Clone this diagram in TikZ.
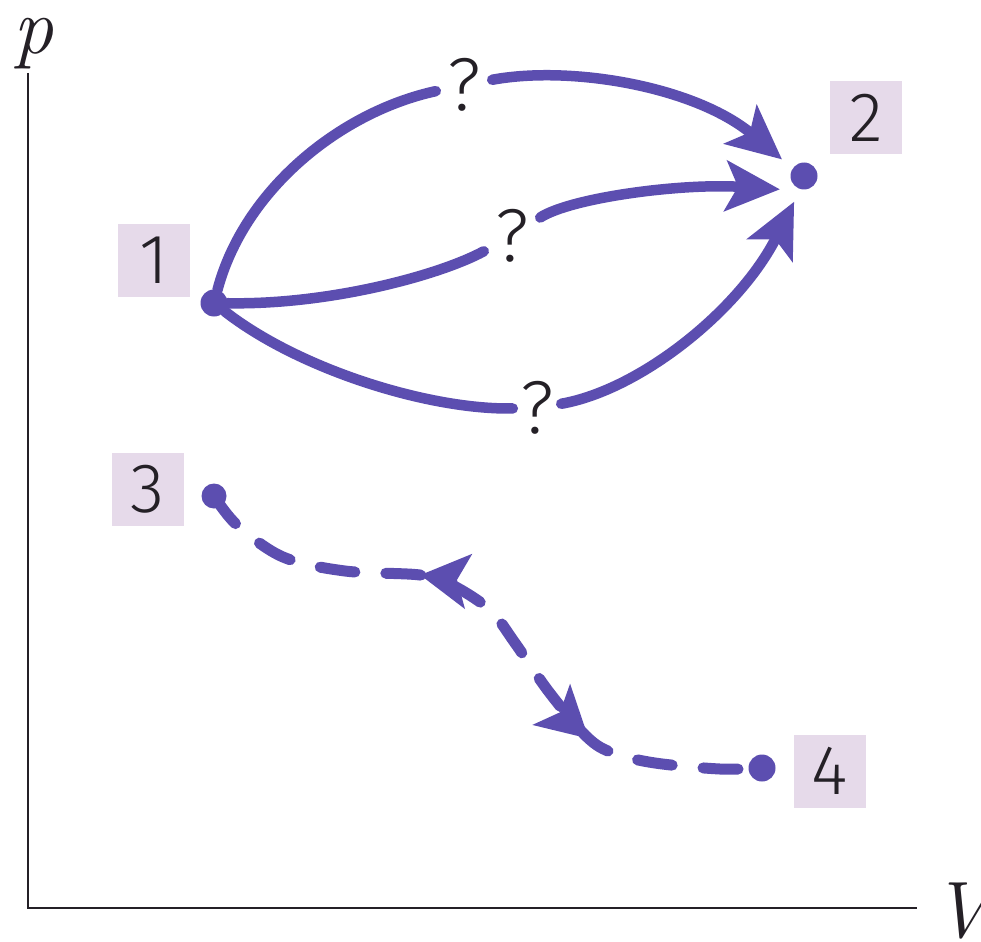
\documentclass[tikz,border=0pt]{standalone}
\usepackage{fontspec}
\newfontfamily\lblfont{Fira Sans Light}
\usetikzlibrary{arrows.meta,decorations.markings}
\definecolor{pathcol}{RGB}{92,78,176}
\definecolor{tagfill}{RGB}{230,218,234}
\definecolor{inkcol}{RGB}{36,32,38}
\begin{document}
\begin{tikzpicture}[x=1pt,y=1pt,
  axis/.style={line width=2.6pt, draw=inkcol},
  axislabel/.style={inner sep=0pt, text=inkcol, font=\fontsize{80}{80}\selectfont\itshape},
  statedot/.style={circle, fill=pathcol, minimum size=27pt, inner sep=0pt},
  tag/.style={fill=tagfill, minimum width=72pt, minimum height=73pt, inner sep=0pt,
    text=inkcol, font=\lblfont\fontsize{70}{70}\selectfont},
  query/.style={minimum width=56pt, minimum height=60pt, inner sep=0pt,
    text=inkcol, font=\lblfont\fontsize{75}{75}\selectfont},
  bigtip/.style={-{Stealth[length=54pt,width=50pt,inset=12pt]}},
  process/.style={draw=pathcol, color=pathcol, line width=10.5pt, line cap=round},
  transition/.style={draw=pathcol, color=pathcol, line width=11pt, line cap=round,
    dash pattern=on 35pt off 31pt,
    postaction={decorate},
    decoration={markings,
      mark=at position 0.356 with {\arrowreversed{Stealth[length=48pt,width=54pt,inset=11pt]}},
      mark=at position 0.726 with {\arrow{Stealth[length=50pt,width=54pt,inset=11pt]}}}}
]
% page and white ground
\path[fill=white, use as bounding box] (0,0) rectangle (981,-941);

% axes
\coordinate (ytop) at (28,-73);
\coordinate (origin) at (28,-908);
\coordinate (xend) at (917,-908);
\draw[axis] (ytop) -- (origin) -- (xend);
\node[axislabel, anchor=base] (plab) at (33,-54) {p};
\node[axislabel, anchor=base west] (vlab) at (932,-937) {V};

% states
\node[statedot] (p1) at (214,-303) {};
\node[statedot, outer sep=14pt] (p2) at (804,-176) {};
\node[statedot, minimum size=25pt] (p3) at (214,-496) {};
\node[statedot] (p4) at (762,-768) {};

\node[tag] (l1) at (153.5,-260) {1};
\node[tag] (l2) at (866,-118) {2};
\node[tag] (l3) at (147.5,-489) {3};
\node[tag] (l4) at (830,-771) {4};

% unknown processes
\node[query] (q1) at (464,-85) {?};
\node[query] (q2) at (512,-236) {?};
\node[query, minimum width=48pt] (q3) at (537,-408) {?};

% three paths from 1 to 2
\draw[process] (p1) .. controls (244,-190) and (340,-112) .. (q1);
\draw[process, bigtip] (q1) .. controls (572,-65) and (696,-87) .. (p2.143);

\draw[process] (p1) .. controls (330,-305) and (440,-275) .. (q2);
\draw[process, bigtip] (q2) .. controls (570,-198) and (680,-183) .. (p2.209);

\draw[process] (p1) .. controls (300,-370) and (430,-410) .. (q3);
\draw[process, bigtip] (q3) .. controls (640,-390) and (740,-310) .. (p2.249);

% dashed process between 3 and 4
\draw[transition] plot[smooth, tension=0.55] coordinates {(p3.center) (237,-525) (283,-557)
  (345,-571) (420,-575) (452,-585) (490,-610) (515,-643) (549,-692) (587,-737)
  (613,-753) (655,-763) (720,-769) (p4.center)};
\end{tikzpicture}
\end{document}
